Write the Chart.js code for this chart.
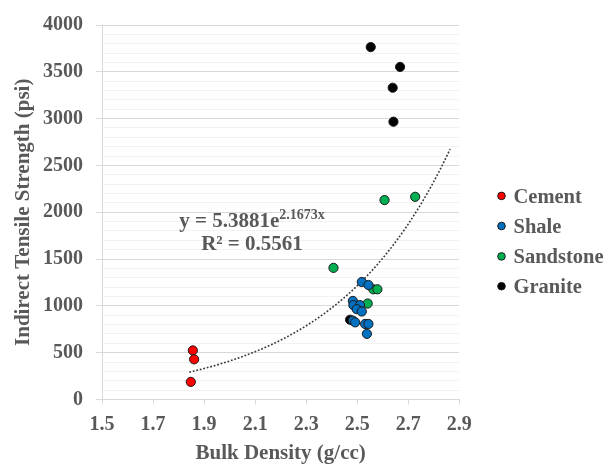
<!DOCTYPE html>
<html>
<head>
<meta charset="utf-8">
<script src="https://cdn.jsdelivr.net/npm/chart.js@4.4.1/dist/chart.umd.min.js"></script>
<style>
  html, body { margin: 0; padding: 0; background: #ffffff; }
  #wrap { width: 608px; height: 468px; }
</style>
</head>
<body>
<div id="wrap"><canvas id="c" width="608" height="468"></canvas></div>
<script>
// ---- Data ----
const cementX = [1.856, 1.861, 1.848];
const cementY = [524, 429, 188];

const shaleX = [2.518, 2.544, 2.483, 2.485, 2.511, 2.498, 2.518, 2.483, 2.492, 2.531, 2.544, 2.538];
const shaleY = [1255, 1223, 1053, 1008, 1008, 965, 940, 842, 824, 807, 807, 701];

const sandstoneX = [2.407, 2.607, 2.727, 2.563, 2.579, 2.541];
const sandstoneY = [1406, 2130, 2165, 1177, 1177, 1025];

const graniteX = [2.553, 2.668, 2.639, 2.642, 2.472];
const graniteY = [3764, 3552, 3330, 2967, 852];

const seriesNames = ['Cement', 'Shale', 'Sandstone', 'Granite'];

// Exponential trendline shown on the chart: y = 5.3881 e^(2.1673 x)
const trendA = 5.3881;
const trendB = 2.1673;
const trendStartX = 1.842;
const trendEndX = 2.864;
const trendLabel1 = 'y = 5.3881e';
const trendLabelExp = '2.1673x';
const trendLabel2 = 'R\u00B2 = 0.5561';

const xTicksMin = 1.5, xTicksMax = 2.9, xTickStep = 0.2;
const yTicksMin = 0, yTicksMax = 4000, yMajorStep = 500, yMinorStep = 100;

// ---- Build datasets ----
function pairs(xs, ys) { return xs.map((x, i) => ({ x: x, y: ys[i] })); }
const trendPts = [];
for (let k = 0; k <= 100; k++) {
  const x = trendStartX + (trendEndX - trendStartX) * k / 100;
  trendPts.push({ x: x, y: trendA * Math.exp(trendB * x) });
}

const colors = ['#FF0000', '#0070C0', '#00B050', '#000000'];
const FONT = '"Liberation Serif", "Times New Roman", serif';
const TXT = '#595959';

const pt = (label, data, color) => ({
  type: 'scatter', label: label, data: data,
  backgroundColor: color, borderColor: '#1a1a1a', borderWidth: 1,
  pointRadius: 4.6, pointHoverRadius: 4.6, order: 1
});

const legendAndEquation = {
  id: 'legendAndEquation',
  afterDraw(chart) {
    const ctx = chart.ctx;
    ctx.save();
    // legend
    const baselines = [202.7, 232.8, 263.2, 293];
    ctx.font = 'bold 20.5px ' + FONT;
    ctx.textBaseline = 'alphabetic';
    ctx.textAlign = 'left';
    seriesNames.forEach((name, i) => {
      ctx.beginPath();
      ctx.arc(501.5, baselines[i] - 6.8, 3.8, 0, Math.PI * 2);
      ctx.fillStyle = colors[i];
      ctx.fill();
      ctx.lineWidth = 1;
      ctx.strokeStyle = '#1a1a1a';
      ctx.stroke();
      ctx.fillStyle = TXT;
      ctx.fillText(name, 513.5, baselines[i]);
    });
    // trendline equation
    const cx = 252;
    ctx.font = 'bold 21px ' + FONT;
    const w1 = ctx.measureText(trendLabel1).width;
    ctx.font = 'bold 14px ' + FONT;
    const w2 = ctx.measureText(trendLabelExp).width;
    const x0 = cx - (w1 + w2) / 2;
    ctx.fillStyle = TXT;
    ctx.font = 'bold 21px ' + FONT;
    ctx.fillText(trendLabel1, x0, 226.8);
    ctx.font = 'bold 14px ' + FONT;
    ctx.fillText(trendLabelExp, x0 + w1, 218.5);
    ctx.font = 'bold 21px ' + FONT;
    ctx.textAlign = 'center';
    ctx.fillText(trendLabel2, cx, 250.3);
    ctx.restore();
  }
};

new Chart(document.getElementById('c'), {
  data: {
    datasets: [
      pt(seriesNames[0], pairs(cementX, cementY), colors[0]),
      pt(seriesNames[1], pairs(shaleX, shaleY), colors[1]),
      pt(seriesNames[2], pairs(sandstoneX, sandstoneY), colors[2]),
      pt(seriesNames[3], pairs(graniteX, graniteY), colors[3]),
      {
        type: 'line', label: 'Trend', data: trendPts,
        borderColor: '#3a3a3a', borderWidth: 1.6, borderDash: [1.8, 1.8],
        pointRadius: 0, fill: false, tension: 0, order: 10
      }
    ]
  },
  options: {
    responsive: false,
    devicePixelRatio: 1,
    animation: false,
    events: [],
    layout: { padding: { top: 21.7, right: 148.7, bottom: 0, left: 0 } },
    plugins: {
      legend: { display: false },
      tooltip: { enabled: false },
      title: { display: false }
    },
    scales: {
      x: {
        type: 'linear',
        min: xTicksMin, max: xTicksMax,
        afterFit(scale) { scale.height = 68.5; },
        ticks: {
          stepSize: xTickStep,
          autoSkip: false,
          maxRotation: 0,
          padding: 8,
          color: TXT,
          font: { family: FONT, size: 20, weight: 'bold' },
          callback: (v) => Number(v).toFixed(1)
        },
        grid: {
          drawOnChartArea: false,
          drawTicks: true,
          tickLength: 5,
          tickColor: '#d9d9d9',
          color: '#d9d9d9'
        },
        border: { display: true, color: '#d9d9d9', width: 1 },
        title: {
          display: true,
          text: 'Bulk Density (g/cc)',
          color: TXT,
          font: { family: FONT, size: 21, weight: 'bold' },
          padding: { top: 0, bottom: 2 }
        }
      },
      y: {
        type: 'linear',
        min: yTicksMin, max: yTicksMax,
        afterFit(scale) { scale.width = 102; },
        ticks: {
          stepSize: yMinorStep,
          autoSkip: false,
          padding: 13,
          color: TXT,
          font: { family: FONT, size: 20, weight: 'bold' },
          callback: (v) => (v % yMajorStep === 0 ? String(v) : '')
        },
        grid: {
          drawTicks: true,
          tickLength: 6,
          color: (c) => (c.tick && c.tick.value % yMajorStep === 0 ? '#d9d9d9' : '#f2f2f2'),
          tickColor: (c) => (c.tick && c.tick.value % yMajorStep === 0 ? '#d9d9d9' : 'rgba(0,0,0,0)'),
          lineWidth: 1
        },
        border: { display: true, color: '#d9d9d9', width: 1 },
        title: {
          display: true,
          text: 'Indirect Tensile Strength (psi)',
          color: TXT,
          font: { family: FONT, size: 21, weight: 'bold' },
          padding: { top: 10.6, bottom: 0 }
        }
      }
    }
  },
  plugins: [legendAndEquation]
});
</script>
</body>
</html>
